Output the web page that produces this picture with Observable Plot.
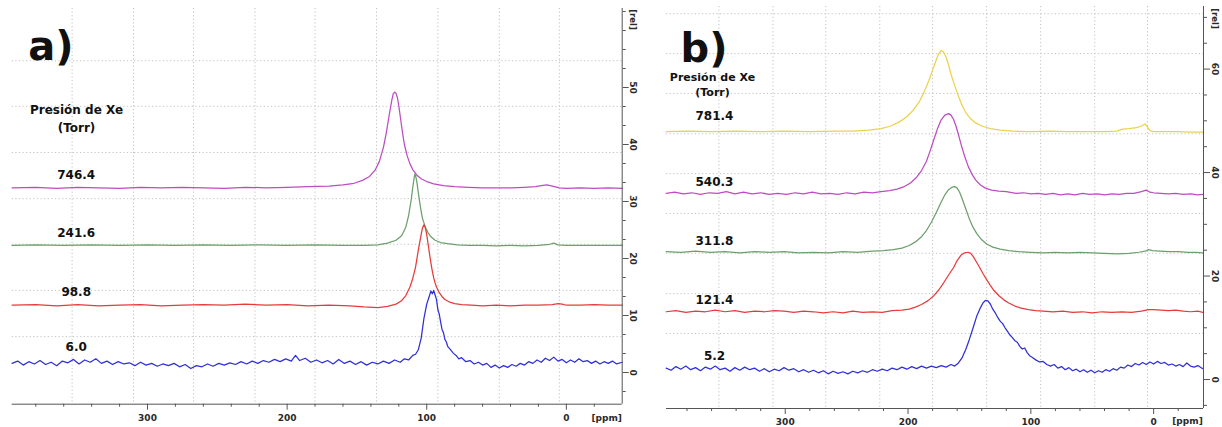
<!DOCTYPE html>
<html><head><meta charset="utf-8">
<script src="https://cdn.jsdelivr.net/npm/d3@7"></script>
<script src="https://cdn.jsdelivr.net/npm/@observablehq/plot@0.6"></script>
<style>
body{margin:0;background:#fff;}
#wrap{position:relative;width:1222px;height:427px;overflow:hidden;background:#fff;font-family:"DejaVu Sans",sans-serif;}
#wrap svg{position:absolute;top:0;}
</style></head><body><div id="wrap"></div>
<script>
// ---------- Panel a) : Xe pressures (Torr) and spectra [ppm, rel] ----------
const labelsA = ["746.4", "241.6", "98.8", "6.0"];
const colorsA = ["#bd4cc2", "#6c9f6c", "#e63b3b", "#3030d6"];

const specA_746 = [[397,32.4],[380,32.5],[365,32.3],[350,32.5],[335,32.4],[320,32.3],[305,32.5],[290,32.4],[275,32.5],[260,32.4],[245,32.3],[230,32.5],[215,32.4],[200,32.5],[185,32.6],[170,32.7],[160,32.9],[152,33.2],[146,33.7],[141,34.4],[137,35.5],[134,37.0],[131,39.5],[129,42.0],[127,45.0],[125,47.8],[124,48.9],[123,49.2],[122,49.0],[121,48.2],[120,46.8],[119,45.0],[118,43.2],[117,41.5],[116,40.0],[114,38.0],[112,36.6],[110,35.6],[107,34.6],[104,34.0],[100,33.5],[95,33.1],[88,32.8],[80,32.6],[70,32.5],[60,32.4],[50,32.4],[40,32.4],[30,32.5],[22,32.6],[18,32.8],[14,32.9],[10,32.7],[5,32.4],[0,32.3],[-10,32.4],[-20,32.3],[-30,32.4],[-40,32.3]];

const specA_241 = [[397,22.3],[380,22.4],[360,22.3],[340,22.4],[320,22.3],[300,22.4],[280,22.3],[260,22.4],[240,22.3],[220,22.4],[200,22.3],[180,22.4],[160,22.3],[145,22.3],[135,22.4],[128,22.7],[122,23.2],[118,24.0],[115,25.5],[113,27.5],[111,30.5],[110,32.5],[109,34.2],[108.5,34.8],[108,34.6],[107,33.3],[106,31.5],[105,29.8],[104,28.3],[103,27.0],[101,25.5],[99,24.5],[97,23.8],[94,23.2],[90,22.8],[85,22.6],[78,22.4],[70,22.3],[60,22.3],[50,22.2],[40,22.3],[30,22.2],[20,22.3],[12,22.5],[9,22.7],[6,22.4],[0,22.3],[-10,22.3],[-20,22.3],[-30,22.3],[-40,22.3]];

const specA_98 = [[397,11.8],[380,11.9],[365,11.7],[350,11.9],[335,11.7],[320,11.8],[305,11.9],[290,11.7],[275,11.8],[260,11.9],[245,11.8],[230,12.0],[215,11.8],[200,11.9],[185,11.7],[170,11.8],[155,11.7],[145,11.5],[135,11.4],[128,11.6],[122,12.0],[118,12.6],[115,13.5],[112,15.0],[110,16.5],[108,18.5],[106,21.5],[104,24.2],[103,25.4],[102,25.9],[101,25.4],[100,24.2],[99,22.5],[98,20.8],[97,19.2],[96,17.8],[95,16.6],[94,15.7],[93,15.0],[91,14.0],[89,13.3],[87,12.8],[84,12.4],[80,12.1],[75,11.9],[68,11.8],[60,11.7],[50,11.8],[40,11.7],[30,11.8],[20,11.8],[10,11.9],[6,12.1],[3,12.0],[0,11.8],[-10,11.8],[-20,11.9],[-30,11.8],[-40,11.8]];

const specA_6 = [[397,1.6],[393,2.0],[389,1.3],[385,1.9],[381,1.5],[377,2.1],[373,1.4],[369,1.8],[365,1.2],[361,2.0],[357,1.7],[353,2.3],[349,1.5],[345,2.2],[341,1.8],[337,2.4],[333,1.6],[329,2.0],[325,1.4],[321,1.9],[317,1.5],[313,1.7],[309,1.2],[305,1.8],[301,1.3],[297,1.6],[293,1.1],[289,1.5],[285,1.2],[281,1.6],[277,1.0],[273,1.4],[269,0.7],[265,1.2],[261,1.0],[257,1.5],[253,1.1],[249,1.6],[245,1.3],[241,1.7],[237,1.4],[233,1.9],[229,1.5],[225,2.0],[221,1.6],[217,2.1],[213,1.8],[209,2.3],[205,1.9],[201,2.4],[197,2.0],[194,3.0],[191,2.1],[187,2.5],[183,1.8],[179,2.2],[175,1.7],[171,2.1],[167,1.5],[163,2.3],[159,1.6],[155,2.0],[151,1.4],[147,1.9],[143,1.3],[139,1.8],[135,1.5],[131,2.0],[127,1.6],[123,2.2],[119,1.8],[116,2.4],[113,2.2],[110,3.0],[108,3.2],[106,4.0],[104,6.0],[102,9.5],[100,12.0],[98,13.5],[97,14.3],[96,13.8],[95,14.4],[94,13.6],[93,12.8],[92,11.0],[91,10.2],[90,8.8],[89,7.5],[88,7.0],[87,5.8],[86,5.4],[85,4.6],[83,4.0],[81,3.4],[79,3.0],[77,2.4],[75,2.6],[72,1.9],[69,2.1],[66,1.5],[63,1.8],[60,1.3],[57,1.6],[54,0.9],[51,1.3],[48,0.8],[45,1.2],[42,0.9],[39,1.4],[36,1.1],[33,1.6],[30,1.3],[27,1.9],[24,1.6],[21,2.2],[18,1.8],[15,2.5],[12,2.1],[9,2.7],[6,2.0],[3,2.3],[0,1.7],[-3,2.2],[-6,1.8],[-9,2.4],[-12,1.9],[-15,2.1],[-18,1.6],[-21,2.0],[-24,1.5],[-27,1.9],[-30,1.6],[-33,2.0],[-36,1.5],[-40,1.8]];

const yTicksA = [0, 10, 20, 30, 40, 50];
const yMinorA = [-3.33, 3.33, 6.67, 13.33, 16.67, 23.33, 26.67, 33.33, 36.67, 43.33, 46.67, 53.33, 56.67, 60, 63.33];
const gridYA = [54.7, 46.7, 38.6, 30.5, 22.5, 14.4, 6.3];

// ---------- Panel b) ----------
const labelsB = ["781.4", "540.3", "311.8", "121.4", "5.2"];
const colorsB = ["#ecd24c", "#bd4cc2", "#6c9f6c", "#e63b3b", "#3030d6"];

const specB_781 = [[397,47.9],[380,48.0],[360,47.9],[340,48.0],[320,47.9],[300,48.0],[280,47.9],[260,48.0],[245,48.0],[232,48.2],[222,48.5],[214,49.0],[207,49.8],[201,50.8],[196,52.0],[191,53.6],[187,55.5],[183,57.8],[180,59.8],[177,61.8],[175,63.0],[173,63.6],[171,63.3],[169,62.3],[167,60.8],[165,59.0],[162,56.8],[159,54.8],[156,53.0],[153,51.6],[149,50.4],[145,49.6],[140,49.0],[133,48.5],[125,48.2],[115,48.0],[100,47.9],[85,48.0],[70,47.9],[55,47.9],[40,47.9],[30,48.0],[25,48.4],[20,48.5],[14,48.7],[10,49.0],[7,49.4],[5,48.8],[3,48.1],[0,47.9],[-10,47.9],[-20,47.9],[-30,47.8],[-40,47.8]];

const specB_540 = [[397,36.0],[390,36.2],[383,35.9],[376,36.1],[369,35.8],[362,36.1],[355,36.0],[348,36.3],[341,35.9],[334,36.2],[327,35.9],[320,36.1],[313,35.8],[306,36.0],[299,35.8],[292,36.1],[285,35.9],[278,36.2],[271,35.9],[264,36.0],[257,35.8],[250,36.1],[243,35.9],[236,36.2],[229,36.1],[222,36.3],[215,36.5],[209,36.8],[203,37.3],[198,38.0],[193,39.1],[189,40.4],[185,42.2],[182,44.2],[179,46.4],[176,48.5],[173,50.2],[170,51.1],[167,51.4],[165,51.1],[163,50.3],[161,49.0],[159,47.4],[157,45.6],[154,43.2],[151,41.2],[148,39.7],[145,38.6],[141,37.6],[137,37.0],[132,36.6],[126,36.4],[120,36.3],[112,36.0],[106,36.1],[100,35.9],[94,36.0],[88,35.8],[82,36.0],[76,35.7],[70,35.9],[64,35.7],[58,36.0],[52,35.8],[46,35.9],[40,35.7],[34,35.9],[28,35.8],[22,36.0],[16,36.0],[10,36.3],[6,36.6],[3,36.2],[0,36.1],[-6,36.0],[-12,35.9],[-18,36.0],[-24,35.8],[-30,35.9],[-36,35.7],[-40,35.8]];

const specB_311 = [[397,24.7],[385,24.6],[373,24.8],[361,24.6],[349,24.7],[337,24.5],[325,24.7],[313,24.6],[301,24.7],[289,24.5],[277,24.6],[265,24.5],[253,24.7],[241,24.6],[229,24.8],[220,24.9],[212,25.1],[205,25.4],[199,25.9],[194,26.6],[189,27.6],[185,28.8],[181,30.4],[177,32.3],[173,34.3],[170,35.7],[167,36.7],[164,37.2],[162,37.3],[160,37.0],[158,36.2],[156,35.0],[153,33.0],[150,31.0],[147,29.4],[144,28.2],[140,27.0],[136,26.2],[131,25.6],[125,25.2],[118,24.9],[110,24.7],[100,24.6],[90,24.5],[80,24.6],[70,24.5],[60,24.6],[50,24.5],[40,24.4],[30,24.3],[20,24.4],[12,24.6],[7,24.8],[4,25.1],[1,24.9],[-5,24.8],[-12,24.7],[-20,24.7],[-28,24.6],[-35,24.6],[-40,24.5]];

const specB_121 = [[397,13.1],[389,13.3],[381,13.0],[373,13.2],[365,13.1],[357,13.4],[349,13.1],[341,13.3],[333,13.0],[325,13.2],[317,13.1],[309,13.3],[301,13.2],[293,13.0],[285,13.2],[277,13.1],[269,12.9],[261,13.1],[253,12.9],[245,13.2],[237,13.0],[229,13.1],[221,13.0],[213,13.3],[205,13.4],[199,13.6],[194,14.0],[189,14.5],[184,15.2],[179,16.2],[175,17.3],[171,18.7],[167,20.2],[163,21.6],[160,23.0],[157,24.0],[154,24.5],[151,24.6],[149,24.4],[147,23.8],[145,23.0],[142,21.8],[139,20.5],[136,19.3],[133,18.2],[130,17.2],[126,16.2],[122,15.4],[118,14.8],[113,14.2],[108,13.8],[102,13.5],[96,13.3],[90,13.2],[82,13.1],[74,13.2],[66,13.0],[58,13.1],[50,12.9],[42,13.1],[34,13.0],[26,13.1],[18,13.0],[10,13.2],[4,13.5],[0,13.5],[-6,13.4],[-12,13.3],[-18,13.4],[-24,13.2],[-30,13.1],[-36,13.2],[-40,13.0]];

const specB_5 = [[397,2.2],[393,1.8],[389,2.5],[385,2.0],[381,2.6],[377,1.9],[373,2.3],[369,1.7],[365,2.4],[361,2.0],[357,2.6],[353,1.9],[349,2.2],[345,1.6],[341,2.3],[337,1.8],[333,2.4],[329,1.9],[325,2.2],[321,1.6],[317,2.1],[313,1.5],[309,2.0],[305,1.7],[301,2.3],[297,1.8],[293,2.1],[289,1.5],[285,1.9],[281,1.4],[277,1.8],[273,1.3],[269,1.7],[265,1.1],[261,1.6],[257,1.2],[253,1.5],[249,1.1],[245,1.6],[241,1.3],[237,1.7],[233,1.4],[229,1.9],[225,1.6],[221,2.0],[217,1.7],[213,2.2],[209,1.9],[205,2.4],[201,2.0],[197,2.5],[193,2.1],[189,2.6],[185,2.2],[181,2.6],[177,2.3],[173,2.7],[169,2.4],[165,2.9],[162,2.6],[159,3.2],[156,4.2],[153,5.8],[150,7.8],[147,10.0],[144,12.3],[141,13.9],[139,14.8],[137,15.3],[135,15.2],[133,14.6],[131,13.6],[129,12.9],[127,12.0],[125,11.3],[123,10.8],[121,10.0],[119,9.3],[117,8.6],[115,8.1],[113,7.5],[111,7.2],[109,6.4],[107,5.9],[105,6.1],[103,5.2],[101,4.6],[99,4.3],[96,3.8],[93,3.4],[90,3.5],[87,2.9],[84,2.6],[81,2.9],[78,2.2],[75,2.5],[72,1.9],[69,2.3],[66,1.7],[63,2.0],[60,1.5],[57,1.9],[54,1.4],[51,1.8],[48,1.3],[45,1.7],[42,1.4],[39,1.9],[36,1.6],[33,2.1],[30,1.8],[27,2.4],[24,2.2],[21,2.8],[18,2.5],[15,3.1],[12,2.8],[9,3.3],[6,2.9],[3,3.4],[0,3.0],[-3,3.5],[-6,3.1],[-9,3.3],[-12,2.8],[-15,3.0],[-18,2.6],[-21,2.9],[-24,2.5],[-27,3.2],[-30,2.6],[-33,2.4],[-36,2.7],[-40,2.1]];

const yTicksB = [0, 20, 40, 60];
const yMinorB = [-5, 5, 10, 15, 25, 30, 35, 45, 50, 55, 65, 70];
const gridYB = [70.7, 63.0, 55.3, 47.5, 39.8, 32.1, 24.4, 16.6, 8.9];

// ---------- shared axis ----------
const xMajor = [300, 200, 100, 0];
const xMinor = [380, 360, 340, 320, 280, 260, 240, 220, 180, 160, 140, 120, 80, 60, 40, 20, -20];
const gridX = [354, 310, 267, 223, 180, 136, 92, 48, 5];

function panel(o) {
  const [x0, x1] = o.xDomain, [y0, y1] = o.yDomain;
  const axisCol = "#555", txtCol = "#2a2a2a";
  const font = {fontFamily: "DejaVu Sans, sans-serif", fontWeight: "bold"};
  const mid = {textAnchor: "middle", lineAnchor: "middle"};
  // label height: top of the baseline noise in the first stretch of each trace
  const labY = s => d3.max(s.slice(0, 12), d => d[1]);
  return Plot.plot({
    width: o.width, height: 427,
    marginLeft: o.ml, marginRight: o.mr, marginTop: o.mt, marginBottom: o.mb,
    x: {domain: o.xDomain, axis: null},
    y: {domain: o.yDomain, axis: null},
    style: {fontFamily: "DejaVu Sans, sans-serif", background: "transparent", overflow: "visible"},
    marks: [
      Plot.ruleX(gridX, {stroke: "#c2c2c2", strokeDasharray: "1.2,2.4", strokeWidth: 1}),
      Plot.ruleY(o.gridY, {stroke: "#c2c2c2", strokeDasharray: "1.2,2.4", strokeWidth: 1}),
      ...o.series.map((s, i) => Plot.line(s, {x: d => d[0], y: d => d[1], stroke: o.colors[i], strokeWidth: 1.25})),
      Plot.ruleY([y0], {stroke: axisCol, strokeWidth: 1}),
      Plot.ruleX([x1], {stroke: axisCol, strokeWidth: 1}),
      Plot.axisX({ticks: xMinor, tickSize: 3, tickFormat: () => "", stroke: axisCol}),
      Plot.axisX({ticks: xMajor, tickSize: 6, tickPadding: o.xPad, tickFormat: d => String(d), stroke: axisCol, fill: txtCol, fontSize: 9, ...font}),
      Plot.axisY({anchor: "right", ticks: o.yMinor, tickSize: 3, tickFormat: () => "", stroke: axisCol}),
      Plot.axisY({anchor: "right", ticks: o.yTicks, tickSize: 6, tickFormat: () => "", stroke: axisCol}),
      Plot.text(o.yTicks, {y: d => d, text: d => String(d), frameAnchor: "right", dx: o.ylabDx, rotate: 90, fontSize: 9, fill: txtCol, ...mid, ...font}),
      Plot.text(["[rel]"], {frameAnchor: "top-right", dx: o.ylabDx, dy: o.relDy, rotate: 90, fontSize: 8.5, fill: txtCol, ...mid, ...font}),
      Plot.text(["[ppm]"], {frameAnchor: "bottom-right", dx: o.ppmDx, dy: o.ppmDy, fontSize: 9, fill: txtCol, ...mid, ...font}),
      Plot.text([o.title], {frameAnchor: "top-left", dx: o.titleDx, dy: o.titleDy, textAnchor: "start", lineAnchor: "middle", fontSize: 40, fill: "#111", ...font}),
      Plot.text(["Presión de Xe\n(Torr)"], {frameAnchor: "top-left", dx: o.headDx, dy: o.headDy, ...mid, lineHeight: o.headLH, fontSize: o.headFS, fill: "#111", ...font}),
      Plot.text(o.labels, {y: (d, i) => labY(o.series[i]), frameAnchor: "left", dx: o.labDx, dy: o.labDy, ...mid, fontSize: 12, fill: "#111", ...font})
    ]
  });
}

const wrap = document.getElementById("wrap");

const svgA = panel({
  width: 645, ml: 11.7, mr: 23.3, mt: 8, mb: 23.3,
  xDomain: [396.9, -40], yDomain: [-5.56, 63.86],
  series: [specA_746, specA_241, specA_98, specA_6], colors: colorsA, labels: labelsA,
  yTicks: yTicksA, yMinor: yMinorA, gridY: gridYA,
  ylabDx: 10.5, relDy: 11, ppmDx: -15.5, ppmDy: 13.5, xPad: 4,
  title: "a)", titleDx: 16, titleDy: 39,
  headDx: 64.3, headDy: 109, headLH: 1.5, headFS: 12, labDx: 64, labDy: -12
});
svgA.style.left = "0px";
wrap.appendChild(svgA);

const svgB = panel({
  width: 577, ml: 21, mr: 19, mt: 6, mb: 19,
  xDomain: [396.7, -40.6], yDomain: [-5.6, 72.1],
  series: [specB_781, specB_540, specB_311, specB_121, specB_5], colors: colorsB, labels: labelsB,
  yTicks: yTicksB, yMinor: yMinorB, gridY: gridYB,
  ylabDx: 11, relDy: 12, ppmDx: -16, ppmDy: 13, xPad: 4,
  title: "b)", titleDx: 14, titleDy: 43,
  headDx: 46, headDy: 77.5, headLH: 1.36, headFS: 11, labDx: 48, labDy: -10
});
svgB.style.left = "645px";
wrap.appendChild(svgB);
</script>
</body></html>
